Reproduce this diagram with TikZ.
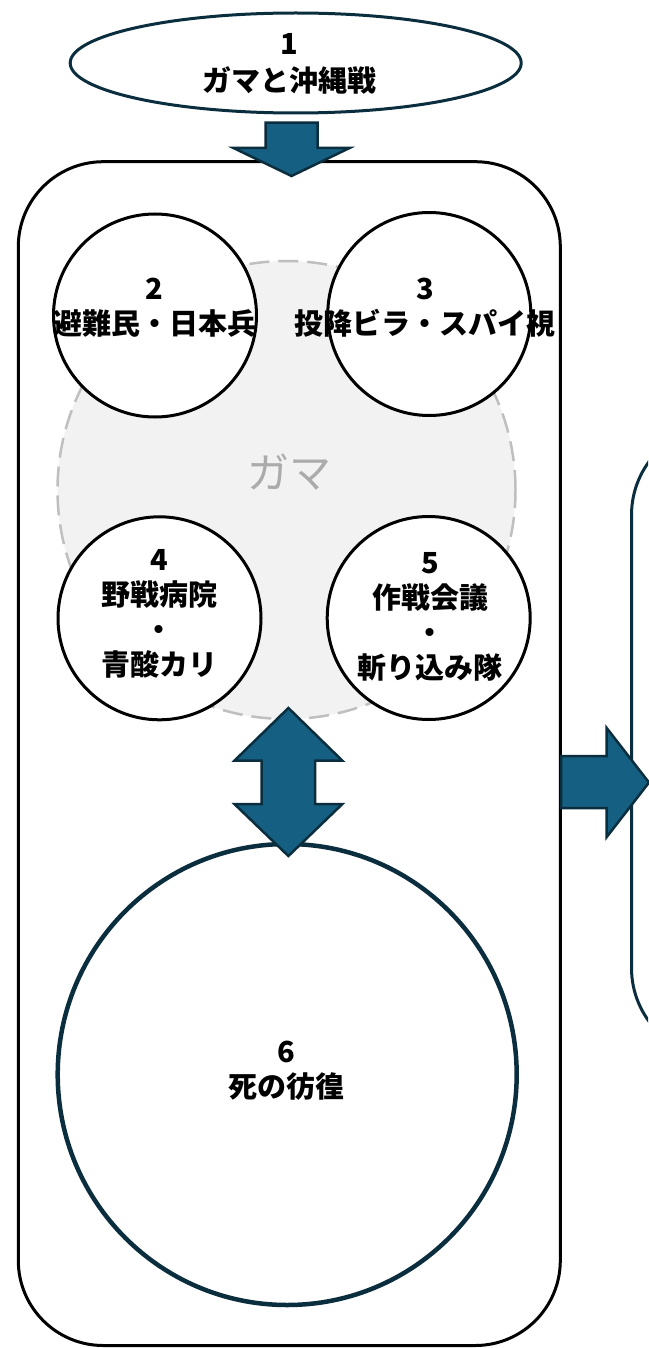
\documentclass[tikz,border=0pt]{standalone}
\usepackage{fontspec}
\newfontfamily\jp{Noto Sans CJK JP}
\usetikzlibrary{shapes.geometric}
\definecolor{navy}{HTML}{0B2E3F}
\definecolor{arrowblue}{HTML}{156082}
\definecolor{gamafill}{HTML}{F2F2F2}
\definecolor{gamaline}{HTML}{BFBFBF}
\definecolor{gamatext}{HTML}{ABABAB}
\begin{document}
\begin{tikzpicture}[x=1pt,y=-1pt,
  lbl/.style={font=\jp\bfseries\fontsize{29}{35}\selectfont, align=center, inner sep=0pt, text=black},
  smallcirc/.style={ellipse, draw=black, line width=3pt, fill=white, minimum width=203pt, minimum height=203pt, inner sep=0pt},
  blockarrow/.style={fill=arrowblue, draw=navy, line width=2.5pt, line join=miter},
]
\useasboundingbox (0,0) rectangle (648,1348);
\fill[white] (0,0) rectangle (648,1348);
\begin{scope}
\clip (0,0) rectangle (648,1348);
% right box (partly outside)
\draw[navy, line width=3pt, fill=white, rounded corners=90pt] (631.5,425) rectangle (950,1058);
\end{scope}
% main box
\draw[black, line width=3pt, rounded corners=85pt] (18.3,161.7) rectangle (560.3,1345.5);
% top ellipse
\node[ellipse, draw=navy, line width=3pt, fill=white, minimum width=451pt, minimum height=100pt, inner sep=0pt] (e1) at (295.7,63) {};
% gama circle
\node[circle, draw=gamaline, fill=gamafill, line width=2.5pt, dash pattern=on 20pt off 9pt, minimum size=458pt, inner sep=0pt] (gama) at (286.5,490) {};
\node[font=\jp\fontsize{42}{42}\selectfont, text=gamatext, inner sep=0pt] (gamatxt) at (289,472) {ガマ};
% small circles
\node[smallcirc] (c2) at (155,315.5) {};
\node[smallcirc] (c3) at (429.3,314) {};
\node[smallcirc] (c4) at (159.5,618.3) {};
\node[smallcirc] (c5) at (428.7,618) {};
% big circle
\node[ellipse, draw=navy, line width=4.5pt, fill=white, minimum width=459pt, minimum height=461pt, inner sep=0pt] (c6) at (287.2,1074.5) {};
% arrows
\draw[blockarrow] (265.5,122.7) -- (317.5,122.7) -- (317.5,148) -- (349.5,148) -- (291.5,176) -- (233.5,148) -- (265.5,148) -- cycle;
\draw[blockarrow] (288.4,708) -- (342.4,760.7) -- (315,760.7) -- (315,804) -- (342.4,804) -- (288.4,856) -- (234.4,804) -- (261.7,804) -- (261.7,760.7) -- (234.4,760.7) -- cycle;
\draw[blockarrow] (561,756) -- (606.7,756) -- (606.7,728) -- (649,782.5) -- (606.7,837) -- (606.7,808) -- (561,808) -- cycle;
% labels
\node[lbl, font=\jp\bfseries\fontsize{29}{37}\selectfont] (t1) at (289,64) {1\\ガマと沖縄戦};
\node[lbl] (t2) at (154.5,307.5) {2\\避難民・日本兵};
\node[lbl] (t3) at (425,307.5) {3\\投降ビラ・スパイ視};
\node[lbl] (t4) at (159,614) {4\\野戦病院\\・\\青酸カリ};
\node[lbl] (t5) at (430,617) {5\\作戦会議\\・\\斬り込み隊};
\node[lbl] (t6) at (286,1071) {6\\死の彷徨};
\end{tikzpicture}
\end{document}
